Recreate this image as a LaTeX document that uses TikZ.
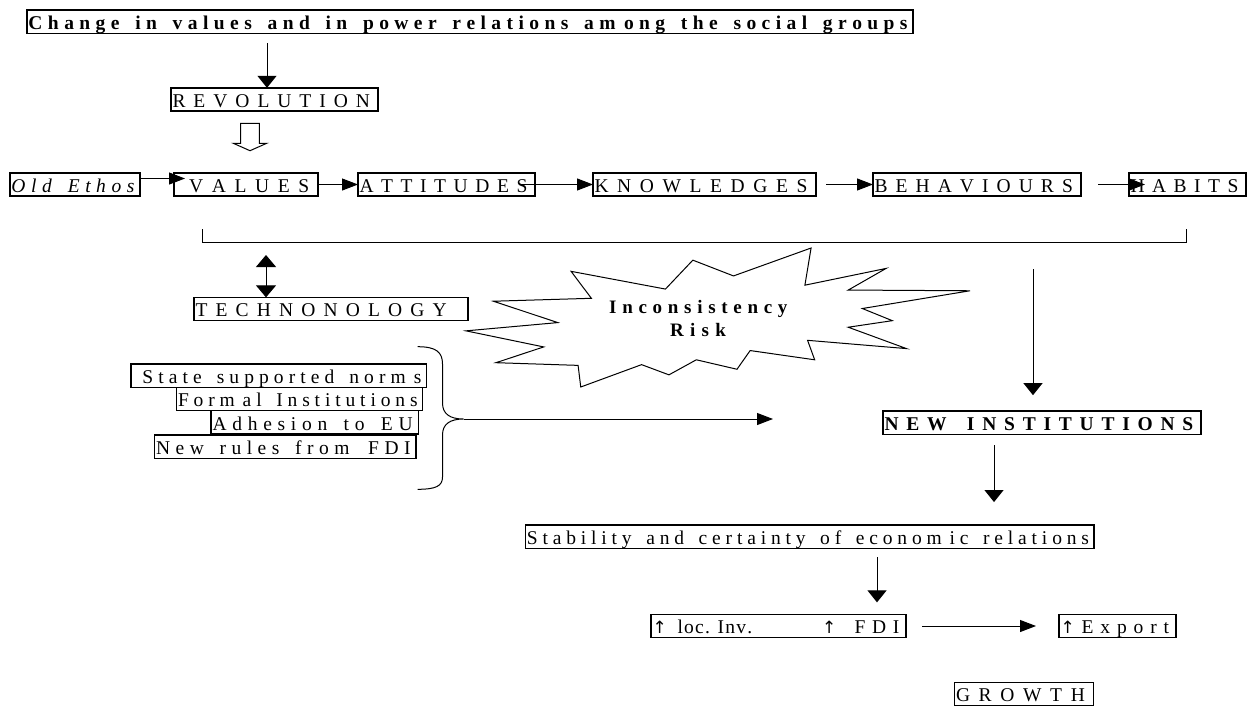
\documentclass[tikz,border=0pt]{standalone}
\usepackage{fontspec}
\setmainfont{Liberation Serif}
\newfontfamily\arrowglyphs{DejaVu Sans}
\usetikzlibrary{arrows.meta,calc}

\newcommand\upglyph{{\arrowglyphs\fontsize{17}{20}\selectfont ↑}}

% Letter-spaced text: every character is followed by equal stretchable space,
% filling a box of the given width (in pt); an optional left kern comes first.
% The up arrow is taken from DejaVu Sans, and m gets a little extra room.
\ExplSyntaxOn
\NewDocumentCommand \spread { O{1.5pt} m m }
  {
    \makebox[#2pt][s]
      {
        \kern #1
        \str_map_inline:nn {#3}
          {
            \str_if_eq:nnTF {##1} {↑}
              { \upglyph }
              { ##1 }
            \str_if_eq:nnT {##1} {m} { \kern 3pt }
            \hfil
          }
      }
  }
\ExplSyntaxOff

\tikzset{
  box/.style={draw, line width=1.5pt, inner sep=0pt, outer sep=0pt,
    minimum height=23.3pt, text height=19.5pt, text depth=3.8pt, anchor=west,
    font=\fontsize{19.5}{22}\selectfont\frenchspacing},
  boldbox/.style={box, font=\fontsize{19.5}{22}\selectfont\frenchspacing\bfseries},
  itbox/.style={box, font=\fontsize{19.5}{22}\selectfont\frenchspacing\itshape},
  link/.style={line width=1pt, -{Triangle[length=16pt,width=12pt]}},
  drop/.style={line width=1pt, -{Triangle[length=12pt,width=19pt]}},
  duo/.style={line width=1pt, {Triangle[length=12pt,width=20pt]}-{Triangle[length=12pt,width=20pt]}},
  thin/.style={line width=1pt},
  bursttext/.style={inner sep=0pt, anchor=base west,
    font=\fontsize{19}{22}\selectfont\bfseries},
}

\begin{document}
\begin{tikzpicture}[x=1pt, y=-1pt, line join=miter]
\fill[white] (0,0) rectangle (1255,707);
\useasboundingbox (0,0) rectangle (1255,707);

% ---------- top of the chain ----------
\node[boldbox] (top) at (27,21.8)
  {\spread{886}{Change in values and in power relations among the social groups}};
\node[box] (rev) at (171,99.5) {\spread{207}{REVOLUTION}};

\coordinate (cdrop) at (267,43);
\draw[drop] (cdrop) -- (cdrop |- rev.north);

% hollow block arrow
\draw[thin] (240.7,123.3) -- (259.3,123.3) -- (259.3,143.3) -- (266.7,143.3)
  -- (250,150.7) -- (233.3,143.3) -- (240.7,143.3) -- cycle;

% ---------- the main row ----------
\node[itbox] (oe)   at (10,184.5)   {\spread{130}{Old Ethos}};
\node[box]   (val)  at (174,184.5)  {\spread{144}{ VALUES}};
\node[box]   (att)  at (358,184.5)  {\spread{177}{ATTITUDES}};
\node[box]   (know) at (593,184.5)  {\spread{223}{KNOWLEDGES}};
\node[box]   (beh)  at (873,184.5)  {\spread{208}{BEHAVIOURS}};
\node[box]   (hab)  at (1129,184.5) {\spread{117}{HABITS}};

\draw[link] ($(oe.east)+(0,-6)$) -- ($(val.west)+(11,-6)$);
\draw[link] (val.east) -- (att.west);
\draw[link] ($(att.east)+(-15,0)$) -- (know.west);
\draw[link] ($(know.east)+(10,0)$) -- (beh.west);
\draw[link] ($(beh.east)+(17,0)$) -- ($(hab.west)+(16,0)$);

% bracket under the row
\coordinate (brL) at (202,229);
\coordinate (brR) at (1186,229);
\draw[thin] (brL) -- ++(0,13) -| (brR);

% ---------- technology ----------
\node[box] (tech) at (194,309) {\spread{274}{TECHNONOLOGY }};
\coordinate (techlink) at (266,255);
\draw[duo] (techlink) -- (techlink |- tech.north);

% ---------- explosion ----------
\begin{scope}[shift={(466,248)}, x=2.3333pt, y=-0.6435pt]
\draw[thin, fill=white] (114.64,43.40) -- (97.22,18.87) -- (85.48,63.83) -- (45.03,36.26)
  -- (53.73,78.16) -- (11.74,82.70) -- (39.34,115.92) -- (0,128.75) -- (33.29,153.72)
  -- (12.83,178.24) -- (48.04,182.39) -- (49.18,216) -- (75.25,181.25) -- (86.98,197.12)
  -- (98.71,173.71) -- (116.14,188.44) -- (121.78,159.37) -- (149.43,173.71)
  -- (146.40,143.48) -- (188.78,156.32) -- (163.82,123.11) -- (182.70,112.92)
  -- (169.86,94.04) -- (216,66.46) -- (163.82,65.33) -- (180.05,31.72)
  -- (145.24,57.78) -- (147.89,0) -- cycle;
\end{scope}
\node[bursttext] (incons) at (609,313.3) {\spread[0pt]{184}{Inconsistency}};
\node[bursttext] (risk)   at (670,336.7) {\spread[0pt]{62}{Risk}};

% ---------- institutions list and brace ----------
\node[box] (ssn)    at (131,375.8)   {\spread{295.5}{ State supported norms}};
\node[box] (formal) at (176.5,399)   {\spread{246}{Formal Institutions}};
\node[box] (adh)    at (211,422.3)   {\spread{207.4}{Adhesion to EU}};
\node[box] (newr)   at (154.7,446.6) {\spread{261.3}{New rules from FDI}};

\coordinate (bracetip) at (463.6,419);
\draw[thin] (417.6,346.7) .. controls (436,346.7) and (442.5,352) .. (442.5,364)
  -- (442.5,403) .. controls (442.5,414) and (450,419) .. (bracetip)
  .. controls (450,419) and (442.5,424) .. (442.5,435)
  -- (442.5,477) .. controls (442.5,486) and (436,489.3) .. (417.6,489.3);
\coordinate (riskend) at (773,419);
\draw[link] (bracetip) -- (riskend);

% ---------- new institutions and outcomes ----------
\node[boldbox] (newinst) at (883,422.8) {\spread{318}{NEW INSTITUTIONS}};
\coordinate (instlink) at (1033,269);
\draw[drop, shorten >=16pt] (instlink) -- (instlink |- newinst.north);

\node[box] (stab) at (525.4,536.7)
  {\spread{568.4}{Stability and certainty of economic relations}};
\coordinate (ni1) at ($(newinst.south)+(-48,11)$);
\draw[drop, shorten >=23pt] (ni1) -- (ni1 |- stab.north);

\node[box] (locinv) at (651,626)
  {\makebox[255pt][l]{\kern1.5pt\makebox[25pt][l]{\upglyph}\spread[0pt]{76}{loc. Inv.}\hfill\spread[0pt]{84}{↑ FDI}}};
\node[box] (export) at (1059,626) {\spread{117}{↑Export}};
\coordinate (st1) at ($(stab.south)+(67.4,9)$);
\draw[drop, shorten >=12pt] (st1) -- (st1 |- locinv.north);
\draw[link, shorten <=16pt, shorten >=23pt] (locinv.east) -- (export.west);

\node[box] (growth) at (954.5,694) {\spread{139}{GROWTH}};
\end{tikzpicture}
\end{document}
